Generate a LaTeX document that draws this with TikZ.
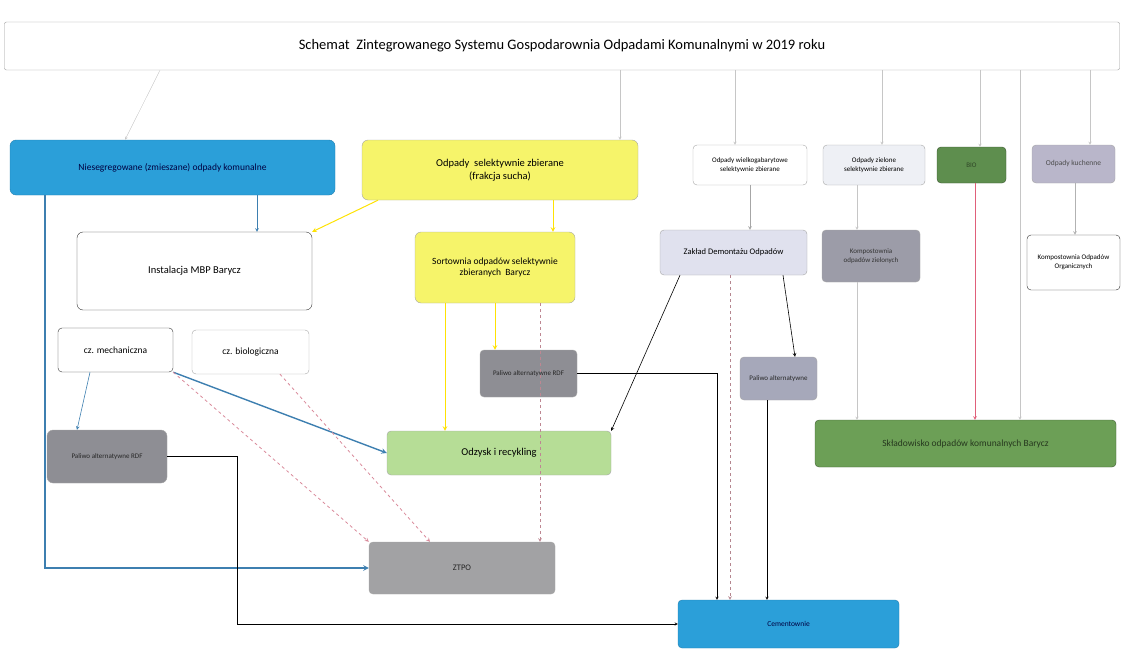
\documentclass[tikz,border=0pt]{standalone}
\usepackage{fontspec}
\setmainfont{Carlito}
\usepackage{tikz}
\usetikzlibrary{calc}
\definecolor{mixblue}{HTML}{2B9FD9}
\definecolor{dryyellow}{HTML}{F6F46A}
\definecolor{biogreen}{HTML}{5E8E4E}
\definecolor{landgreen}{HTML}{6C9F56}
\definecolor{recgreen}{HTML}{B6DD96}
\definecolor{lineblue}{HTML}{3D7FB0}
\definecolor{kitgrey}{HTML}{B9B6CA}
\definecolor{dmgrey}{HTML}{E0E1EE}
\definecolor{zgrey}{HTML}{EEF0F5}
\definecolor{fuelgrey}{HTML}{A6A8BA}
\definecolor{rdfgrey}{HTML}{8E8E94}
\definecolor{compgrey}{HTML}{9C9CA8}
\definecolor{ztpogrey}{HTML}{A2A2A4}
\definecolor{pinkdash}{HTML}{D98A9A}
\definecolor{redline}{HTML}{E0607A}

\begin{document}
\begin{tikzpicture}[x=1pt,y=-1pt,>=stealth,
    box/.style={draw=gray!70, rounded corners=4pt, align=center, inner sep=2pt, font=\fontsize{9.5}{11.5}\selectfont},
    feed/.style={->, gray!45, thin},
    flowblue/.style={->, lineblue, line width=1.4pt},
    flowyel/.style={->, yellow!85!orange, line width=1pt},
    flowblk/.style={->, black, thin}]
    \useasboundingbox (0,0) rectangle (1123,650);
    % boxes
    \node (title) at (562,46) [box, draw=gray!80, rounded corners=2pt, minimum width=1115, minimum height=48, font=\fontsize{14.5}{16}\selectfont] {Schemat~ Zintegrowanego Systemu Gospodarownia Odpadami Komunalnymi w 2019 roku};
    \node (mixed) at (172.5,167.5) [box, fill=mixblue, draw=mixblue!80!black, rounded corners=6pt, minimum width=325, minimum height=55, text=blue!25!black] {Niesegregowane (zmieszane) odpady komunalne};
    \node (dry) at (500,170) [box, fill=dryyellow, rounded corners=6pt, minimum width=276, minimum height=60, font=\fontsize{10.5}{13}\selectfont] {Odpady~ selektywnie zbierane\\(frakcja sucha)};
    \node (mbp) at (194.5,271) [box, draw=black!80, rounded corners=6pt, minimum width=235, minimum height=78, font=\fontsize{10.5}{12}\selectfont] {Instalacja MBP Barycz};
    \node (sort) at (495,267.5) [box, fill=dryyellow, rounded corners=6pt, minimum width=160, minimum height=71] {Sortownia odpadów selektywnie\\zbieranych~ Barycz};
    \node (bulky) at (750,165) [box, minimum width=114, minimum height=40, font=\fontsize{7}{9}\selectfont] {Odpady wielkogabarytowe\\selektywnie zbierane};
    \node (garden) at (874,165) [box, fill=zgrey, minimum width=102, minimum height=40, font=\fontsize{7}{9}\selectfont] {Odpady zielone\\selektywnie zbierane};
    \node (bio) at (971.5,165) [box, fill=biogreen, draw=biogreen!60!black, minimum width=69, minimum height=36, font=\fontsize{7}{9}\selectfont, text=biogreen!50!black] {BIO};
    \node (kitchen) at (1073.5,164) [box, fill=kitgrey, minimum width=83, minimum height=38, font=\fontsize{7.5}{9}\selectfont, text=gray!60!black] {Odpady kuchenne};
    \node (dismantle) at (733.5,252.5) [box, fill=dmgrey, minimum width=147, minimum height=45, font=\fontsize{8.5}{10}\selectfont] {Zakład Demontażu Odpadów};
    \node (compost) at (871,256) [box, fill=compgrey, minimum width=98, minimum height=52, font=\fontsize{7}{9}\selectfont, text=gray!40!black] {Kompostownia\\odpadów zielonych};
    \node (organic) at (1073.5,262.5) [box, draw=black!80, minimum width=93, minimum height=55, font=\fontsize{7}{9}\selectfont] {Kompostownia Odpadów\\Organicznych};
    \node (mech) at (115.5,350) [box, draw=black!80, minimum width=115, minimum height=44] {cz. mechaniczna};
    \node (biol) at (250.5,352) [box, minimum width=117, minimum height=44] {cz. biologiczna};
    \node (rdfmid) at (528.5,373.5) [box, fill=rdfgrey, minimum width=97, minimum height=47, font=\fontsize{7}{9}\selectfont, text=gray!30!black] {Paliwo alternatywne RDF};
    \node (fuel) at (778.5,378.5) [box, fill=fuelgrey, minimum width=77, minimum height=43, font=\fontsize{7}{9}\selectfont, text=gray!30!black] {Paliwo alternatywne};
    \node (landfill) at (965.5,443.5) [box, fill=landgreen, draw=landgreen!60!black, minimum width=301, minimum height=47, text=landgreen!35!black] {Składowisko odpadów komunalnych Barycz};
    \node (recov) at (499,453) [box, fill=recgreen, minimum width=224, minimum height=44, font=\fontsize{10.5}{12}\selectfont] {Odzysk i recykling};
    \node (rdfleft) at (107,456.5) [box, fill=rdfgrey, rounded corners=6pt, minimum width=120, minimum height=53, font=\fontsize{7}{9}\selectfont, text=gray!30!black] {Paliwo alternatywne RDF};
    \node (ztpo) at (462,568) [box, fill=ztpogrey, minimum width=186, minimum height=52, font=\fontsize{8.5}{10}\selectfont, text=gray!30!black] {ZTPO};
    \node (cement) at (788.5,624) [box, fill=mixblue, draw=mixblue!80!black, minimum width=221, minimum height=48, font=\fontsize{7.5}{9}\selectfont, text=blue!25!black] {Cementownie};
    % from title
    \draw[feed] (title.south -| 160,0) to (mixed.north -| 125,0);
    \draw[feed] (title.south -| 620,0) to (dry.north -| 620,0);
    \draw[feed] (title.south -| 735,0) to (bulky.north -| 735,0);
    \draw[feed] (title.south -| 882,0) to (garden.north -| 882,0);
    \draw[feed] (title.south -| 980,0) to (bio.north -| 980,0);
    \draw[feed] (title.south -| 1020,0) to (landfill.north -| 1020,0);
    \draw[feed] (title.south -| 1090,0) to (kitchen.north -| 1090,0);
    % mixed waste
    \draw[->, lineblue, semithick] (mixed.south -| 257,0) to (mbp.north -| 257,0);
    \draw[flowblue] (mixed.south -| 45,0) |- (ztpo.west);
    \draw[->, lineblue, semithick] (mech.south -| 90,0) to (rdfleft.north -| 77,0);
    \draw[flowblue] (mech.south east) to (recov.west);
    \draw[->, pinkdash, thick, dashed] (mech.south east) to (ztpo.north west);
    \draw[->, pinkdash, thick, dashed] (biol.south -| 280,0) to (ztpo.north -| 430,0);
    % dry fraction
    \draw[flowyel] (dry.south -| 378,0) to (mbp.north east);
    \draw[flowyel] (dry.south -| 553,0) to (sort.north -| 553,0);
    \draw[flowyel] (sort.south -| 445,0) to (recov.north -| 445,0);
    \draw[flowyel] (sort.south -| 495,0) to (rdfmid.north -| 495,0);
    \draw[->, pinkdash!70!gray, semithick, dashed] (sort.south -| 540,0) to (ztpo.north -| 540,0);
    % RDF to cement plants
    \draw[flowblk] (rdfleft.east) to (rdfleft.east -| 237,0) |- (cement.west);
    \draw[flowblk] (rdfmid.east) -| (cement.north -| 717,0);
    % bulky waste
    \draw[->, gray!70, semithick] (bulky.south -| 750,0) to (dismantle.north -| 750,0);
    \draw[->, black, semithick] (dismantle.south -| 680,0) to (recov.north east);
    \draw[->, black, semithick] (dismantle.south -| 783,0) to (fuel.north -| 795,0);
    \draw[->, pinkdash!60!gray, semithick, dashed] (dismantle.south -| 730,0) to (cement.north -| 730,0);
    \draw[flowblk] (fuel.south -| 767,0) to (cement.north -| 767,0);
    % green and kitchen waste
    \draw[feed] (garden.south -| 857,0) to (compost.north -| 857,0);
    \draw[feed] (compost.south -| 857,0) to (landfill.north -| 857,0);
    \draw[->, redline, semithick] (bio.south -| 975,0) to (landfill.north -| 975,0);
    \draw[->, gray!60, semithick] (kitchen.south -| 1075,0) to (organic.north -| 1075,0);
\end{tikzpicture}
\end{document}
